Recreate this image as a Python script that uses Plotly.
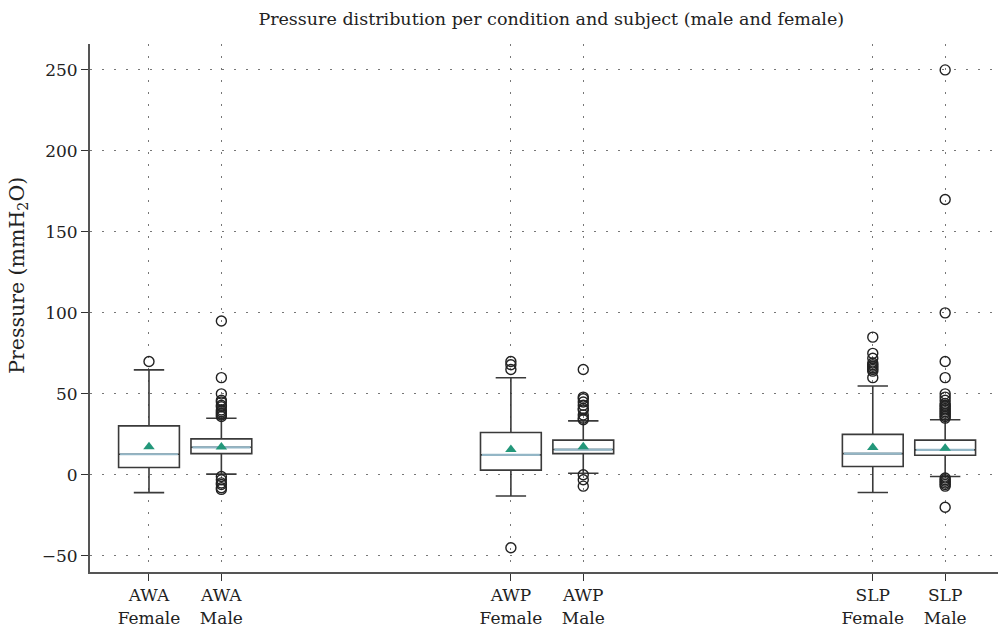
import plotly.graph_objects as go

positions = [1, 2, 6, 7, 11, 12]
tick_labels = ["AWA<br>Female", "AWA<br>Male", "AWP<br>Female", "AWP<br>Male", "SLP<br>Female", "SLP<br>Male"]

q1 = [4.5, 13.1, 2.9, 13.1, 5.1, 12.1]
median = [12.7, 17.0, 12.3, 15.6, 13.1, 15.4]
q3 = [30.2, 22.2, 26.1, 21.4, 25.0, 21.4]
lower_whisker = [-11.0, 0.4, -13.1, 1.0, -10.9, -1.0]
upper_whisker = [64.8, 34.9, 59.9, 33.3, 54.8, 34.0]
means = [17.4, 17.2, 15.6, 17.4, 16.8, 16.4]

outliers = [
    [70],
    [95, 60, 50, 46, 45, 43, 42, 40, 39, 38, 37, 36, -1, -3, -5, -6, -8, -9],
    [70, 68, 65, -45],
    [65, 48, 47, 45, 43, 41, 40, 37, 35, 34, 0, -3, -7],
    [85, 75, 72, 69, 68, 67, 66, 65, 64, 60],
    [250, 170, 100, 70, 60, 50, 48, 46, 44, 43, 42, 41, 40, 39, 38, 37, 36, 35,
     -2, -3, -4, -5, -6, -7, -20],
]

FONT = "DejaVu Serif"
BOX_W = 0.84
GRID_DASH = "1.5px,10.5px"

fig = go.Figure()

fig.add_trace(go.Box(
    x=positions, q1=q1, median=median, q3=q3,
    lowerfence=lower_whisker, upperfence=upper_whisker,
    width=BOX_W, whiskerwidth=0.5,
    fillcolor="white", line=dict(color="#3a3a3a", width=1.6),
    boxpoints=False, showlegend=False, hoverinfo="skip",
))

# median lines (light blue-grey)
mx, my = [], []
for p, m in zip(positions, median):
    mx += [p - BOX_W / 2 + 0.02, p + BOX_W / 2 - 0.02, None]
    my += [m, m, None]
fig.add_trace(go.Scatter(x=mx, y=my, mode="lines",
                         line=dict(color="#93b6c6", width=2.2),
                         showlegend=False, hoverinfo="skip"))

# outliers
ox, oy = [], []
for p, vals in zip(positions, outliers):
    ox += [p] * len(vals)
    oy += vals
fig.add_trace(go.Scatter(x=ox, y=oy, mode="markers",
                         marker=dict(symbol="circle-open", size=10,
                                     color="#222222", line=dict(width=1.4)),
                         showlegend=False, hoverinfo="skip"))

# means
fig.add_trace(go.Scatter(x=positions, y=means, mode="markers",
                         marker=dict(symbol="triangle-up", size=10, color="#23977a"),
                         showlegend=False, hoverinfo="skip"))

fig.update_layout(
    width=998, height=631,
    margin=dict(l=90, r=0, t=44, b=59),
    plot_bgcolor="white", paper_bgcolor="white",
    font=dict(family=FONT, size=17, color="#222222"),
    title=dict(text="Pressure distribution per condition and subject (male and female)",
               x=0.508, xref="paper", xanchor="center", y=0.97, yanchor="middle",
               font=dict(family=FONT, size=17.5, color="#222222")),
    xaxis=dict(range=[0.185, 12.73], tickvals=positions, ticktext=tick_labels,
               showgrid=True, gridcolor="#777777", griddash=GRID_DASH, gridwidth=1,
               showline=True, linecolor="#555555", linewidth=2,
               ticks="outside", ticklen=7, tickcolor="#333333", zeroline=False),
    yaxis=dict(range=[-60, 266], tickvals=[-50, 0, 50, 100, 150, 200, 250],
               ticktext=["\u221250", "0", "50", "100", "150", "200", "250"],
               showgrid=True, gridcolor="#777777", griddash=GRID_DASH, gridwidth=1,
               showline=True, linecolor="#555555", linewidth=2,
               ticks="outside", ticklen=7, tickcolor="#333333", zeroline=False),
    annotations=[dict(text="Pressure (mmH<sub>2</sub>O)", textangle=-90,
                      xref="paper", yref="paper", x=-0.0795, y=0.5625,
                      xanchor="center", yanchor="middle", showarrow=False,
                      font=dict(family=FONT, size=20.5, color="#222222"))],
)

fig.write_html("out.html")
